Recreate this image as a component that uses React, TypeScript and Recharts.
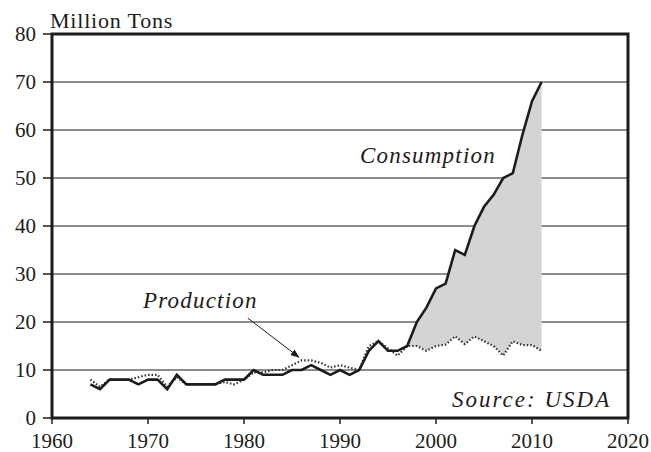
import {
  ComposedChart,
  Line,
  Area,
  XAxis,
  YAxis,
  CartesianGrid,
  ReferenceArea,
  ReferenceLine,
} from "recharts";

const years = [
  1964, 1965, 1966, 1967, 1968, 1969, 1970, 1971, 1972, 1973, 1974, 1975,
  1976, 1977, 1978, 1979, 1980, 1981, 1982, 1983, 1984, 1985, 1986, 1987,
  1988, 1989, 1990, 1991, 1992, 1993, 1994, 1995, 1996, 1997, 1998, 1999,
  2000, 2001, 2002, 2003, 2004, 2005, 2006, 2007, 2008, 2009, 2010, 2011,
];

const consumption = [
  7, 6, 8, 8, 8, 7, 8, 8, 6, 9, 7, 7,
  7, 7, 8, 8, 8, 10, 9, 9, 9, 10, 10, 11,
  10, 9, 10, 9, 10, 14, 16, 14, 14, 15, 20, 23,
  27, 28, 35, 34, 40, 44, 46.5, 50, 51, 59, 66, 70,
];

const production = [
  8, 6.5, 8, 8, 8, 8.5, 9, 9, 6.5, 8.5, 7, 7,
  7, 7, 7.5, 7, 8, 9.5, 9.5, 10, 10, 11, 12, 12,
  11.5, 10.5, 11, 10.5, 10, 15, 16, 14.5, 13, 15, 15, 14,
  15, 15.3, 17, 15.4, 17, 16, 15, 13, 16, 15.2, 15.2, 14,
];

// imports shading starts once consumption pulls away from production
const importsStart = 1997;

const xTicks = [1960, 1970, 1980, 1990, 2000, 2010, 2020];
const yTicks = [0, 10, 20, 30, 40, 50, 60, 70, 80];

const data = years.map((year, i) => ({
  year,
  consumption: consumption[i],
  production: production[i],
  imports: year >= importsStart ? [production[i], consumption[i]] : null,
}));

const font = "'Liberation Serif', 'DejaVu Serif', serif";
const ink = "#1c1c1c";

const noteStyle = {
  fontFamily: font,
  fontStyle: "italic",
  fontSize: 23,
  letterSpacing: 1.2,
  fill: ink,
};

export default function App() {
  return (
    <div style={{ position: "absolute", left: 0, top: 0, width: 651, height: 452, background: "#fff" }}>
      <ComposedChart
        width={651}
        height={452}
        data={data}
        margin={{ top: 34, right: 23, bottom: 4, left: 7 }}
      >
        <defs>
          <marker
            id="arrowHead"
            markerWidth={9}
            markerHeight={8}
            refX={8}
            refY={4}
            orient="auto"
            markerUnits="userSpaceOnUse"
          >
            <path d="M0,0.5 L9,4 L0,7.5 z" fill={ink} />
          </marker>
        </defs>
        <CartesianGrid vertical={false} stroke={ink} strokeWidth={1.2} />
        <XAxis
          type="number"
          dataKey="year"
          domain={[1960, 2020]}
          ticks={xTicks}
          interval={0}
          height={30}
          axisLine={false}
          tickSize={6}
          tickMargin={9}
          tickLine={{ stroke: ink, strokeWidth: 1.5 }}
          tick={{ fill: ink, fontSize: 21, fontFamily: font }}
        />
        <YAxis
          domain={[0, 80]}
          ticks={yTicks}
          interval={0}
          width={45}
          axisLine={false}
          tickSize={9}
          tickMargin={7}
          tickLine={{ stroke: ink, strokeWidth: 1.5 }}
          tick={{ fill: ink, fontSize: 21, fontFamily: font }}
        />
        <Area
          type="linear"
          dataKey="imports"
          stroke="none"
          fill="#d4d4d4"
          fillOpacity={1}
          isAnimationActive={false}
        />
        <Line
          type="linear"
          dataKey="production"
          stroke="#333"
          strokeWidth={2.2}
          strokeDasharray="1.5 2"
          dot={false}
          isAnimationActive={false}
        />
        <Line
          type="linear"
          dataKey="consumption"
          stroke={ink}
          strokeWidth={2.6}
          dot={false}
          isAnimationActive={false}
        />
        <ReferenceArea
          x1={1960}
          x2={2020}
          y1={0}
          y2={80}
          fill="none"
          fillOpacity={0}
          stroke={ink}
          strokeWidth={3}
        />
        <ReferenceLine
          segment={[
            { x: 1980.4, y: 20.8 },
            { x: 1985.7, y: 12.7 },
          ]}
          stroke={ink}
          strokeWidth={1}
          markerEnd="url(#arrowHead)"
        />
        <text x={50} y={28} style={{ fontFamily: font, fontSize: 22, letterSpacing: 0.8, fill: ink }}>
          Million Tons
        </text>
        <text x={360} y={163} style={noteStyle}>
          Consumption
        </text>
        <text x={143} y={308} style={noteStyle}>
          Production
        </text>
        <text x={442} y={310} style={noteStyle}>
          Imports
        </text>
        <text x={452} y={407} style={{ ...noteStyle, letterSpacing: 2 }}>
          Source: USDA
        </text>
      </ComposedChart>
    </div>
  );
}
